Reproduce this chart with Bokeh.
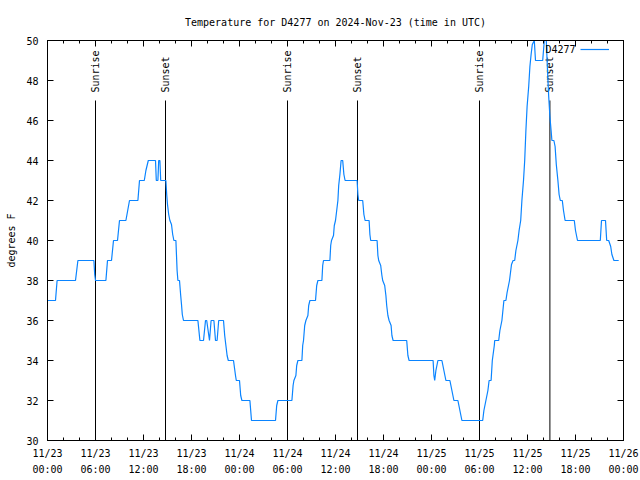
import math
import pandas as pd
from bokeh.plotting import figure
from bokeh.models import (FixedTicker, DatetimeTickFormatter, DatetimeAxis, LinearAxis,
                          Range1d, Label, Legend, LegendItem, ColumnDataSource)
from bokeh.core.properties import value
from bokeh.embed import file_html
from bokeh.resources import INLINE

# ---------------- data ----------------
start_time = "2024-11-23 00:00"
end_time = "2024-11-26 00:00"
series_name = "D4277"
title_text = "Temperature for D4277 on 2024-Nov-23 (time in UTC)"
y_label = "degrees F"

# hours since 2024-11-23 00:00 UTC
hours = [0.0, 1.0, 1.2, 3.5, 3.8, 5.8, 5.9, 6.0, 7.3, 7.5, 8.0, 8.25, 8.75, 9.0, 9.8, 10.25,
         11.3, 11.5, 12.1, 12.3, 12.6, 13.5, 13.6, 13.8, 13.9, 14.05, 14.15, 14.8, 14.9, 15.0,
         15.15, 15.3, 15.5, 15.65, 15.8, 16.05, 16.2, 16.3, 16.5, 16.65, 16.75, 16.85, 17.0,
         18.8, 19.05, 19.5, 19.75, 19.9, 20.25, 20.45, 20.8, 21.0, 21.2, 21.4, 22.0, 22.15,
         22.3, 22.45, 22.6, 23.25, 23.5, 23.6, 24.0, 24.15, 24.3, 25.3, 25.5, 28.5, 28.65,
         28.8, 30.55, 30.7, 30.8, 31.05, 31.15, 31.3, 31.8, 31.9, 32.0, 32.15, 32.3, 32.55,
         32.65, 32.8, 33.5, 33.65, 33.8, 34.3, 34.4, 34.5, 35.3, 35.4, 35.5, 35.75, 35.85,
         36.0, 36.15, 36.3, 36.4, 36.55, 36.7, 36.9, 37.05, 37.2, 38.7, 38.8, 38.9, 39.4,
         39.55, 39.7, 40.2, 40.3, 40.4, 41.2, 41.3, 41.4, 41.65, 41.8, 41.9, 42.15, 42.3,
         42.4, 42.55, 42.7, 42.95, 43.05, 43.2, 44.9, 45.05, 45.2, 48.2, 48.3, 48.4, 48.55,
         48.8, 49.3, 49.55, 49.8, 50.3, 50.55, 50.8, 51.3, 51.55, 51.8, 54.4, 54.55, 54.8,
         55.05, 55.2, 55.45, 55.6, 55.85, 55.9, 56.4, 56.55, 56.8, 57.05, 57.3, 57.45, 57.75,
         58.0, 58.2, 58.4, 58.55, 58.8, 58.95, 59.15, 59.3, 59.5, 59.65, 59.8, 59.95, 60.15,
         60.3, 60.45, 60.6, 60.85, 61.0, 61.9, 62.1, 62.35, 62.5, 62.65, 62.8, 62.95, 63.05,
         63.3, 63.45, 63.6, 63.8, 63.95, 64.1, 64.35, 64.5, 64.7, 65.85, 66.0, 66.25, 69.1,
         69.25, 69.75, 69.9, 70.15, 70.4, 70.55, 70.8, 71.4]
temps = [37, 37, 38, 38, 39, 39, 38.3, 38, 38, 39, 39, 40, 40, 41, 41, 42,
         42, 43, 43, 43.5, 44, 44, 43, 43, 44, 44, 43, 43, 42.3, 41.8,
         41.3, 41, 40.8, 40.3, 40, 40, 38.5, 38, 38, 37.25, 36.8, 36.3, 36,
         36, 35, 35, 36, 36, 35, 36, 36, 35, 35, 36, 36, 35.25,
         34.75, 34.25, 34, 34, 33.25, 33, 33, 32.25, 32, 32, 31, 31, 31.75,
         32, 32, 32.75, 33, 33.25, 33.75, 34, 34, 34.75, 35, 35.75, 36, 36.25,
         36.75, 37, 37, 37.75, 38, 38, 38.75, 39, 39, 39.75, 40, 40.25, 40.75,
         41, 41.5, 42, 42.75, 43.3, 44, 44, 43.3, 43, 43, 42.3, 42, 42,
         41.3, 41, 41, 40.3, 40, 40, 39.25, 39, 38.75, 38.25, 38, 37.75, 37.25,
         36.75, 36.25, 36, 35.75, 35.25, 35, 35, 34.25, 34, 34, 33.25, 33, 33.5,
         34, 34, 33.5, 33, 33, 32.5, 32, 32, 31.5, 31, 31, 31.5, 32,
         32.5, 33, 33, 34, 34.75, 35, 35, 35.5, 36, 37, 37, 37.4, 38,
         38.8, 39, 39, 39.5, 40, 40.5, 41, 42, 43, 44, 45.5, 46.7, 47.7,
         48.7, 49.3, 49.8, 50, 49, 49, 50, 50, 48.5, 47.2, 46.2, 45.5, 45,
         45, 44.7, 43.8, 43, 42.3, 42, 42, 41.5, 41, 41, 40.5, 40, 40,
         41, 41, 40, 40, 39.7, 39.3, 39, 39]

# sun events (hours since start)
sunrise_hours = [6.0, 30.0, 54.0]
sunset_hours = [14.75, 38.75, 62.8]

y_ticks = [30, 32, 34, 36, 38, 40, 42, 44, 46, 48, 50]
x_tick_step_hours = 6
x_minor_step_hours = 2

# ---------------- build ----------------
t0 = pd.Timestamp(start_time)
t1 = pd.Timestamp(end_time)
times = t0 + pd.to_timedelta(hours, unit="h")
src = ColumnDataSource(dict(t=times, v=temps))

def ms(ts):
    return ts.value // 10**6

n_hours = int((t1 - t0) / pd.Timedelta(hours=1))
major = [ms(t0 + pd.Timedelta(hours=h)) for h in range(0, n_hours + 1, x_tick_step_hours)]
minor = [ms(t0 + pd.Timedelta(hours=h)) for h in range(0, n_hours + 1, x_minor_step_hours)]

FONT = "DejaVu Sans Mono"
FS = "10px"

p = figure(width=640, height=480, x_axis_type="datetime",
           x_range=Range1d(t0, t1), y_range=Range1d(30, 50),
           output_backend="svg", toolbar_location=None,
           min_border_left=47, min_border_right=17, min_border_top=40, min_border_bottom=40)
p.title.text = title_text
p.title.align = "center"
p.title.text_font = FONT
p.title.text_font_size = FS
p.title.text_font_style = "normal"
p.title.text_color = "black"
p.title.standoff = 25

p.xgrid.visible = False
p.ygrid.visible = False
p.outline_line_color = "black"
p.outline_line_alpha = 1

xt = FixedTicker(ticks=major, minor_ticks=minor)
fmt_str = "%m/%d\n%H:%M"
xf = DatetimeTickFormatter(milliseconds=fmt_str, seconds=fmt_str, minsec=fmt_str, minutes=fmt_str,
                           hourmin=fmt_str, hours=fmt_str, days=fmt_str, months=fmt_str, years=fmt_str)
yt = FixedTicker(ticks=y_ticks, minor_ticks=[])

def style(ax, labels=True):
    ax.major_tick_in = 6
    ax.major_tick_out = 0
    ax.minor_tick_in = 3
    ax.minor_tick_out = 0
    ax.axis_line_color = "black"
    ax.major_tick_line_color = "black"
    ax.minor_tick_line_color = "black"
    ax.major_label_text_font = FONT
    if labels:
        ax.major_label_text_font_size = FS
        ax.major_label_text_color = "black"
    else:
        ax.major_label_text_font_size = "1px"
        ax.major_label_text_color = None
        ax.major_label_standoff = 0

xa = p.xaxis[0]
xa.ticker = xt
xa.formatter = xf
style(xa)
xa.major_label_standoff = 7
xa.major_label_text_line_height = 1.5

ya = p.yaxis[0]
ya.ticker = yt
style(ya)
ya.minor_tick_line_color = None
ya.major_label_standoff = 9
ya.axis_label = y_label
ya.axis_label_text_font = FONT
ya.axis_label_text_font_size = FS
ya.axis_label_text_font_style = "normal"
ya.axis_label_text_color = "black"
ya.axis_label_standoff = 6

top = DatetimeAxis(ticker=xt, formatter=xf)
style(top, labels=False)
p.add_layout(top, "above")
right = LinearAxis(ticker=yt)
style(right, labels=False)
right.minor_tick_line_color = None
p.add_layout(right, "right")

# sunrise / sunset markers
ev_times = list(t0 + pd.to_timedelta(sunrise_hours, unit="h")) + list(t0 + pd.to_timedelta(sunset_hours, unit="h"))
ev_text = ["Sunrise"] * len(sunrise_hours) + ["Sunset"] * len(sunset_hours)
ev = ColumnDataSource(dict(t=ev_times, txt=ev_text))
p.segment(x0="t", y0=30, x1="t", y1=47, source=ev, line_color="black", line_width=1)
p.text(x="t", y=47.4, text="txt", source=ev, angle=math.pi / 2, text_align="left",
       text_baseline="middle", text_font=value(FONT), text_font_size=FS, text_color="black")

line = p.line(x="t", y="v", source=src, line_color="#0a84ff", line_width=1.2)

# legend: text then line sample (gnuplot style)
p.add_layout(Label(x=528, y=391, x_units="screen", y_units="screen", text=series_name,
                   text_align="right", text_baseline="middle", text_font=FONT,
                   text_font_size="10px", text_color="black"))
leg = Legend(items=[LegendItem(label=value(" "), renderers=[line])], location=(533, 385),
             padding=0, margin=0, spacing=0, label_standoff=0, glyph_width=29, glyph_height=12,
             label_text_font_size="10px", background_fill_alpha=0, border_line_color=None,
             label_width=1, label_height=12)
p.add_layout(leg)

open("out.html", "w").write(file_html(p, INLINE))
